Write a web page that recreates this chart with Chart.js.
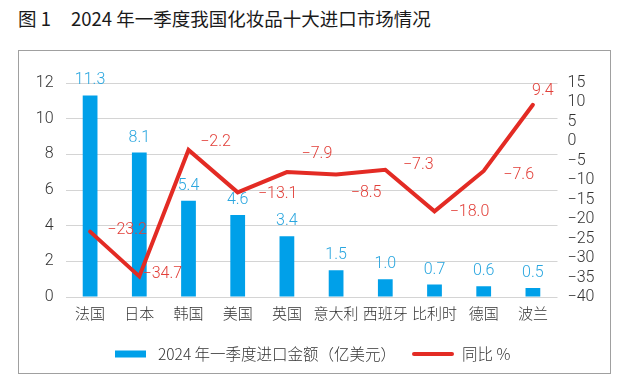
<!DOCTYPE html>
<html><head><meta charset="utf-8">
<script src="https://cdn.jsdelivr.net/npm/chart.js@4"></script>
<style>
html,body{margin:0;padding:0;background:#fff;}
#wrap{position:relative;width:628px;height:379px;overflow:hidden;}
#title{position:absolute;left:18px;top:5px;font:400 18.5px 'Noto Sans CJK SC',sans-serif;color:#1a1a1a;white-space:pre;}
#title span{margin-left:20px;}
#box{position:absolute;left:18px;top:50px;width:593px;height:324px;border:1.5px solid #a0a0a0;box-sizing:border-box;}
canvas{position:absolute;left:0;top:0;}
</style></head>
<body><div id="wrap">
<div id="title">图 1<span>2024 年一季度我国化妆品十大进口市场情况</span></div>
<div id="box"></div>
<canvas id="c" width="628" height="379"></canvas>
</div>
<script>
const categories = ['法国','日本','韩国','美国','英国','意大利','西班牙','比利时','德国','波兰'];
const importValues = [11.3, 8.1, 5.4, 4.6, 3.4, 1.5, 1.0, 0.7, 0.6, 0.5];
const yoyValues = [-23.2, -34.7, -2.2, -13.1, -7.9, -8.5, -7.3, -18.0, -7.6, 9.4];
const seriesNames = ['2024 年一季度进口金额（亿美元）', '同比 %'];
const leftTicks = [0, 2, 4, 6, 8, 10, 12];
const rightTicks = [15, 10, 5, 0, -5, -10, -15, -20, -25, -30, -35, -40];

const BLUE = '#00a0e9', BLUE_TXT = '#2aa6df', RED = '#e32b24', RED_TXT = '#e2403a';
const FONT = "'Noto Sans CJK SC', sans-serif";
const NUMFONT = "Roboto, 'Noto Sans CJK SC', sans-serif";
// label offsets relative to line points (style)
const lineLabelOffsets = [[37,-2],[23,-2],[27,-8],[40,2],[30,-18],[30,19],[33,-5],[35,1],[35,4],[10,-14]];

const labelPlugin = {
  id: 'labels',
  afterDatasetsDraw(chart) {
    const ctx = chart.ctx;
    ctx.save();
    ctx.font = '300 16px ' + NUMFONT;
    ctx.textAlign = 'center';
    ctx.textBaseline = 'middle';
    const barMeta = chart.getDatasetMeta(0);
    barMeta.data.forEach((el, i) => {
      ctx.fillStyle = BLUE_TXT;
      ctx.fillText(importValues[i].toFixed(1), el.x, el.y - 15);
    });
    const lineMeta = chart.getDatasetMeta(1);
    lineMeta.data.forEach((el, i) => {
      const v = yoyValues[i];
      const t = (v < 0 ? '\u2212' + Math.abs(v).toFixed(1) : v.toFixed(1));
      ctx.fillStyle = RED_TXT;
      ctx.fillText(t, el.x + lineLabelOffsets[i][0], el.y + lineLabelOffsets[i][1]);
    });
    // legend
    const ly = 354;
    ctx.fillStyle = BLUE;
    ctx.fillRect(115, ly - 3.5, 31, 7);
    ctx.fillStyle = '#333';
    ctx.textAlign = 'left';
    ctx.font = '300 15.5px ' + FONT;
    ctx.fillText(seriesNames[0], 158, ly);
    ctx.strokeStyle = RED;
    ctx.lineWidth = 4;
    ctx.lineCap = 'round';
    ctx.beginPath(); ctx.moveTo(414, ly); ctx.lineTo(452, ly); ctx.stroke();
    ctx.fillStyle = '#333';
    ctx.fillText(seriesNames[1], 462, ly);
    ctx.restore();
  }
};

new Chart(document.getElementById('c'), {
  data: {
    labels: categories,
    datasets: [
      { type: 'bar', label: seriesNames[0], data: importValues, backgroundColor: BLUE, yAxisID: 'y',
        barPercentage: 0.6, categoryPercentage: 0.5, order: 2 },
      { type: 'line', label: seriesNames[1], data: yoyValues, borderColor: RED, borderWidth: 4,
        pointRadius: 0, tension: 0, yAxisID: 'y1', order: 1, borderJoinStyle: 'miter', borderCapStyle: 'round' }
    ]
  },
  options: {
    responsive: false, animation: false, devicePixelRatio: 1,
    layout: { padding: { top: 83, left: 0, right: 0, bottom: 0 } },
    plugins: { legend: { display: false }, tooltip: { enabled: false } },
    scales: {
      x: {
        grid: { display: false, drawTicks: false }, border: { display: false },
        ticks: { color: '#333', font: { family: FONT, size: 15, weight: 300 }, padding: 7, maxRotation: 0, autoSkip: false },
        afterFit(s) { s.height = 82; }
      },
      y: {
        position: 'left', min: 0, max: 12,
        afterBuildTicks(s) { s.ticks = leftTicks.map(v => ({ value: v })); },
        grid: { color: '#d4d4d4', lineWidth: 1, drawTicks: false }, border: { display: false },
        ticks: { color: '#333', font: { family: NUMFONT, size: 16, weight: 300 }, padding: 12, autoSkip: false },
        afterFit(s) { s.width = 65.5; }
      },
      y1: {
        position: 'right', min: -40, max: 15,
        afterBuildTicks(s) { s.ticks = rightTicks.map(v => ({ value: v })); },
        grid: { display: false, drawTicks: false }, border: { display: false },
        ticks: { color: '#333', font: { family: NUMFONT, size: 16, weight: 300 }, padding: 10, autoSkip: false,
          callback: (v) => v < 0 ? '\u2212' + Math.abs(v) : String(v) },
        afterFit(s) { s.width = 70.5; }
      }
    }
  },
  plugins: [labelPlugin]
});
</script>
</body></html>
